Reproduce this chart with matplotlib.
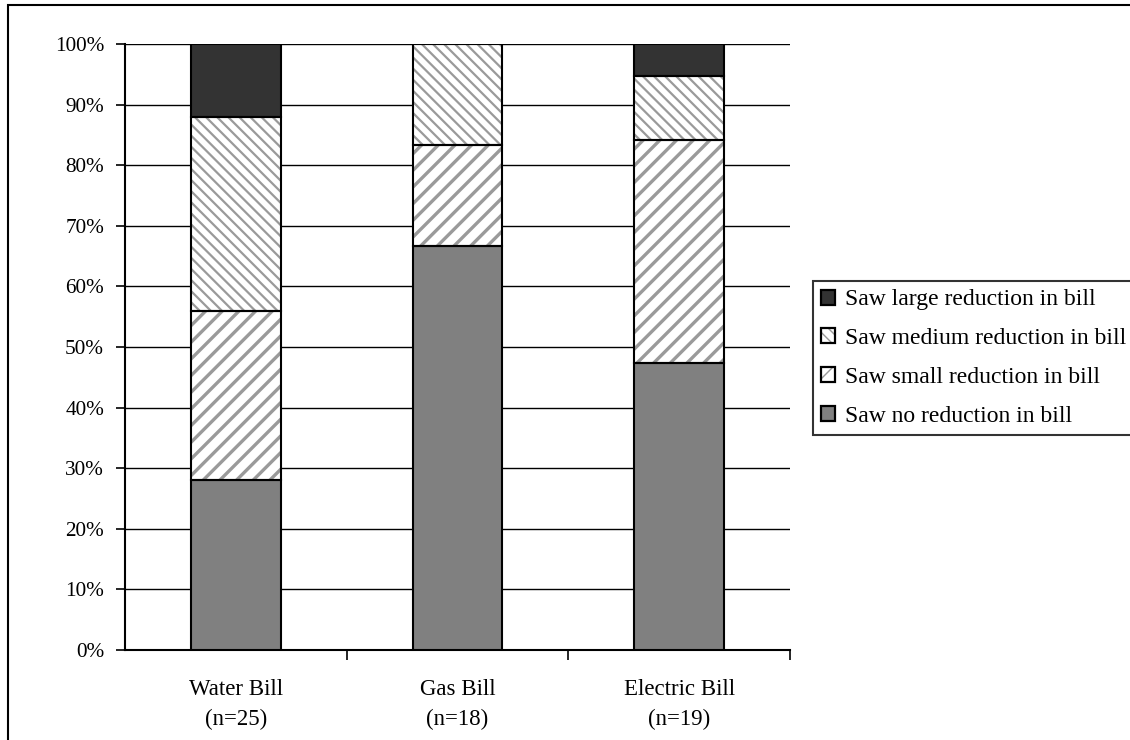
import matplotlib.pyplot as plt
from matplotlib.patches import Patch, Rectangle
from matplotlib.ticker import FixedLocator, PercentFormatter

plt.rcParams['font.family'] = ['Liberation Serif', 'DejaVu Serif']

categories = ['Water Bill\n(n=25)', 'Gas Bill\n(n=18)', 'Electric Bill\n(n=19)']
no_reduction = [28.0, 66.7, 47.4]
small_reduction = [28.0, 16.7, 36.8]
medium_reduction = [32.0, 16.6, 10.5]
large_reduction = [12.0, 0.0, 5.3]

# label, values, fill, hatch pattern, hatch line width
series = [
    ('Saw no reduction in bill', no_reduction, '#808080', None, 1.0),
    ('Saw small reduction in bill', small_reduction, 'white', '//', 2.4),
    ('Saw medium reduction in bill', medium_reduction, 'white', '\\\\\\', 1.6),
    ('Saw large reduction in bill', large_reduction, '#333333', None, 1.0),
]
hatch_gray = '#9a9a9a'

fig = plt.figure(figsize=(11.3, 7.4), dpi=100)
ax = fig.add_axes([125 / 1130, 1 - 650 / 740, 665 / 1130, 606 / 740])

# outer frame around the whole chart area
fig.patches.append(Rectangle((8 / 1130, -0.1), 1.2, 1 - 5 / 740 + 0.1,
                             transform=fig.transFigure, fill=False,
                             edgecolor='black', linewidth=1.5))

x = range(len(categories))
bottom = [0.0] * len(categories)
handles = []
for label, vals, color, hatch, hlw in series:
    with plt.rc_context({'hatch.linewidth': hlw}):
        # fill + gray hatch first, black outline drawn on top
        ax.bar(x, vals, width=0.405, bottom=bottom, color=color, hatch=hatch,
               edgecolor=hatch_gray, linewidth=0, zorder=3)
        fill_handle = Patch(facecolor=color, hatch=hatch, edgecolor=hatch_gray,
                            linewidth=0)
    ax.bar(x, vals, width=0.405, bottom=bottom, fill=False,
           edgecolor='black', linewidth=1.5, zorder=4)
    bottom = [b + v for b, v in zip(bottom, vals)]
    outline = Patch(facecolor='none', edgecolor='black', linewidth=1.6)
    handles.append(((fill_handle, outline), label))

ax.set_xlim(-0.5, 2.5)
ax.set_ylim(0, 100)
ax.set_yticks(range(0, 101, 10))
ax.yaxis.set_major_formatter(PercentFormatter(decimals=0))
ax.grid(axis='y', color='black', linewidth=1, zorder=0)

ax.set_xticks(list(x))
ax.set_xticklabels(categories, fontsize=16.5, linespacing=1.55)
ax.xaxis.set_minor_locator(FixedLocator([0.5, 1.5, 2.5]))
ax.tick_params(axis='x', which='major', length=0, pad=21)
ax.tick_params(axis='x', which='minor', length=7, width=1.2, direction='out')
ax.tick_params(axis='y', length=6.5, width=1.2, labelsize=15.3, pad=8.5)

for side in ['top', 'right']:
    ax.spines[side].set_visible(False)
for side in ['left', 'bottom']:
    ax.spines[side].set_linewidth(1.5)

leg_handles = [h for h, _ in handles[::-1]]
leg_labels = [l for _, l in handles[::-1]]
leg = fig.legend(leg_handles, leg_labels,
                 loc='center left', bbox_to_anchor=(813 / 1130, 1 - 358 / 740),
                 fontsize=17, frameon=True, fancybox=False,
                 edgecolor='black', handlelength=0.6, handleheight=0.6,
                 handletextpad=0.4, labelspacing=0.75, borderpad=0.35,
                 borderaxespad=0)
leg.get_frame().set_linewidth(1.5)

fig.savefig('out.png', dpi=100)
